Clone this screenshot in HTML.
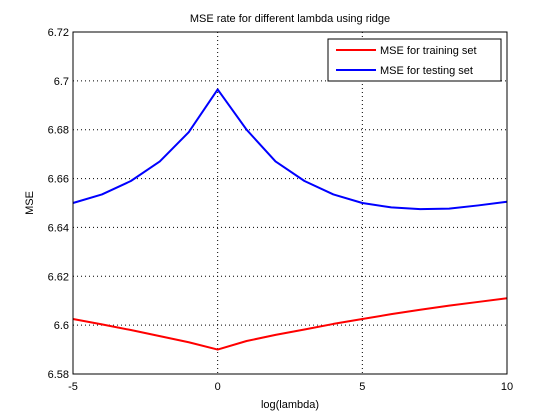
<!DOCTYPE html>
<html><head><meta charset="utf-8"><style>
body{margin:0;background:#fff;}
svg{display:block;font-family:"Liberation Sans",sans-serif;}
</style></head><body>
<svg id="chart" width="560" height="420">
<rect x="0" y="0" width="560" height="420" fill="#fff"/>
<g id="grid"></g>
<g id="series"></g>
<rect x="73" y="32" width="434" height="342" fill="none" stroke="#000" stroke-width="1"/>
<g id="ticks"></g>
<text x="290" y="22" font-size="11" text-anchor="middle">MSE rate for different lambda using ridge</text>
<text x="290" y="408" font-size="11" text-anchor="middle">log(lambda)</text>
<text x="0" y="0" font-size="11" text-anchor="middle" transform="translate(33,203) rotate(-90)">MSE</text>
<g>
<rect x="328" y="39" width="173" height="42" fill="#fff" stroke="#000" stroke-width="1"/>
<line x1="336" y1="50" x2="376" y2="50" stroke="#f00" stroke-width="2"/>
<text x="380" y="54" font-size="11">MSE for training set</text>
<line x1="336" y1="70" x2="376" y2="70" stroke="#00f" stroke-width="2"/>
<text x="380" y="74" font-size="11">MSE for testing set</text>
</g>
</svg>
<script>
const xs = [-5,-4,-3,-2,-1,0,1,2,3,4,5,6,7,8,9,10];
const trainMSE = [6.6025,6.6003,6.5980,6.5955,6.5930,6.5900,6.5935,6.5960,6.5982,6.6005,6.6025,6.6045,6.6063,6.6080,6.6095,6.6110];
const testMSE = [6.6500,6.6535,6.6590,6.6670,6.6790,6.6965,6.6800,6.6670,6.6590,6.6535,6.6500,6.6482,6.6475,6.6477,6.6490,6.6505];
const xTicks = [-5,0,5,10];
const yTicks = [6.58,6.6,6.62,6.64,6.66,6.68,6.7,6.72];
const yTickLabels = ["6.58","6.6","6.62","6.64","6.66","6.68","6.7","6.72"];
const L=73,R=507,T=32,B=374;
const sx = v => L + (v - -5) / 15 * (R - L);
const sy = v => B - (v - 6.58) / 0.14 * (B - T);
const NS="http://www.w3.org/2000/svg";
const grid=document.getElementById('grid'), ticks=document.getElementById('ticks'), series=document.getElementById('series');
function mk(tag, attrs, parent){const e=document.createElementNS(NS,tag);for(const k in attrs)e.setAttribute(k,attrs[k]);parent.appendChild(e);return e;}
xTicks.forEach(v=>{
  const x=sx(v);
  const g=mk('line',{x1:x,y1:T,x2:x,y2:B,stroke:'#000','stroke-width':1,'stroke-dasharray':'1,3'},grid);
  
  
  const t=mk('text',{x:x,y:B+16,'font-size':11,'text-anchor':'middle'},ticks);
  t.textContent=v;
  
  
});
yTicks.forEach((v,i)=>{
  const y=sy(v);
  const g=mk('line',{x1:L,y1:y,x2:R,y2:y,stroke:'#000','stroke-width':1,'stroke-dasharray':'1,3'},grid);
  
  
  const t=mk('text',{x:L-4,y:y+4,'font-size':11,'text-anchor':'end'},ticks);
  t.textContent=yTickLabels[i];
  
  
});
function line(vals,color,name){
  const p=mk('polyline',{points:xs.map((x,i)=>sx(x)+','+sy(vals[i])).join(' '),fill:'none',stroke:color,'stroke-width':2,'stroke-linejoin':'round'},series);
  
  
}
line(trainMSE,'#f00','training-mse-line');
line(testMSE,'#00f','testing-mse-line');
</script>
</body></html>
